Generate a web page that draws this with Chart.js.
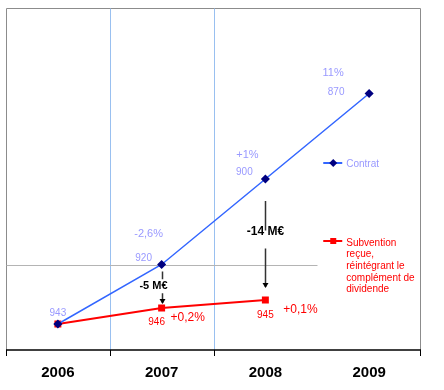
<!DOCTYPE html>
<html>
<head>
<meta charset="utf-8">
<script src="https://cdn.jsdelivr.net/npm/chart.js@4.4.0/dist/chart.umd.min.js"></script>
<style>
  html, body { margin: 0; padding: 0; background: #fff; }
  #wrap { width: 444px; height: 390px; }
</style>
</head>
<body>
<div id="wrap"><canvas id="chart" width="444" height="390"></canvas></div>
<script>
// ── Data ──────────────────────────────────────────────────
const years       = ['2006', '2007', '2008', '2009'];
const contrat     = [7.6, 25, 50, 75];
const subvention  = [7.6, 12.3, 14.6, null];
const contratVals = ['943', '920', '900', '870'];
const contratPct  = [null, '-2,6%', '+1%', '11%'];
const subvVals    = [null, '946', '945', null];
const subvPct     = [null, '+0,2%', '+0,1%', null];
const gapLabels   = [null, '-5 M€', '-14 M€', null];
const legendContrat = ['Contrat'];
const legendSubv    = ['Subvention', 'reçue,', 'réintégrant le', 'complément de', 'dividende'];

const BLUE = '#3366ff', NAVY = '#000080', RED = '#ff0000', LABEL = '#9999ff';
const GRID_BLUE = '#99c0f0', FRAME = '#8c8c8c';
const FONT = 'Arial, "Liberation Sans", sans-serif';

// label offsets for the Contrat series (number, percentage) relative to the point
const contratOffsets = [
  { v: [0, -11], p: null },
  { v: [-18, -6], p: [-13, -31] },
  { v: [-21, -7], p: [-18, -24] },
  { v: [-33, -1], p: [-36, -21] }
];

// ── Plugin: frame, grid, labels, arrows, legend ──────────
const decor = {
  id: 'decor',
  beforeDatasetsDraw(chart) {
    const { ctx, chartArea: a, scales: { x, y } } = chart;
    const px = i => Math.round((x.getPixelForValue(i) + x.getPixelForValue(i + 1)) / 2) + 0.5;
    const L = Math.round(a.left) + 0.5, R = Math.round(a.right) - 0.5;
    const T = Math.round(a.top) + 0.5, B = Math.round(a.bottom);
    ctx.save();
    ctx.lineWidth = 1;
    // frame: top, left, right
    ctx.strokeStyle = FRAME;
    ctx.beginPath();
    ctx.moveTo(L, B); ctx.lineTo(L, T); ctx.lineTo(R, T); ctx.lineTo(R, B);
    ctx.stroke();
    // inner vertical gridlines between 2006/2007 and 2007/2008
    ctx.strokeStyle = GRID_BLUE;
    ctx.beginPath();
    [0, 1].forEach(i => { ctx.moveTo(px(i), T); ctx.lineTo(px(i), B); });
    ctx.stroke();
    // horizontal gridline at 25, stops before the legend column
    const gy = Math.round(y.getPixelForValue(25)) + 0.5;
    ctx.strokeStyle = '#b4b4b4';
    ctx.beginPath();
    ctx.moveTo(L, gy);
    ctx.lineTo(px(2), gy);
    ctx.stroke();
    // category axis line and tick marks
    ctx.strokeStyle = '#000';
    ctx.lineWidth = 1.5;
    ctx.beginPath();
    ctx.moveTo(L - 0.5, B); ctx.lineTo(R + 0.5, B);
    ctx.stroke();
    ctx.lineWidth = 1;
    ctx.beginPath();
    [L, px(0), px(1), R].forEach(tx => { ctx.moveTo(tx, B); ctx.lineTo(tx, B + 6); });
    ctx.stroke();
    ctx.restore();
  },
  afterDatasetsDraw(chart) {
    const { ctx } = chart;
    const blue = chart.getDatasetMeta(0).data;
    const red = chart.getDatasetMeta(1).data;
    ctx.save();
    ctx.textAlign = 'center';
    ctx.textBaseline = 'middle';

    // Contrat labels
    ctx.fillStyle = LABEL;
    blue.forEach((pt, i) => {
      const o = contratOffsets[i];
      ctx.font = '10px ' + FONT;
      if (contratVals[i]) ctx.fillText(contratVals[i], pt.x + o.v[0], pt.y + o.v[1]);
      ctx.font = '11px ' + FONT;
      if (contratPct[i] && o.p) ctx.fillText(contratPct[i], pt.x + o.p[0], pt.y + o.p[1]);
    });

    // Subvention labels
    ctx.fillStyle = RED;
    red.forEach((pt, i) => {
      if (subvVals[i]) {
        ctx.font = '10px ' + FONT;
        ctx.fillText(subvVals[i], pt.x - (i === 1 ? 5 : 0), pt.y + (i === 1 ? 14 : 15));
      }
      if (subvPct[i]) {
        ctx.font = '12px ' + FONT;
        ctx.fillText(subvPct[i], pt.x + (i === 1 ? 26 : 35), pt.y + 10);
      }
    });

    // Gap arrows between the two series
    ctx.strokeStyle = '#333';
    ctx.fillStyle = '#000';
    ctx.lineWidth = 1.5;
    gapLabels.forEach((txt, i) => {
      if (!txt) return;
      const top = blue[i], bot = red[i];
      const cx = Math.round(top.x) + 0.5;
      const mid = (top.y + bot.y) / 2;
      const big = i === 2;
      const gap = big ? 9 : 7;
      const startTop = top.y + (big ? 22 : 7);
      const endBot = bot.y - (big ? 13 : 5);
      ctx.beginPath();
      ctx.moveTo(cx, startTop);
      ctx.lineTo(cx, mid - gap);
      ctx.moveTo(cx, mid + gap);
      ctx.lineTo(cx, endBot);
      ctx.stroke();
      ctx.beginPath();
      ctx.moveTo(cx - 3, endBot - 4);
      ctx.lineTo(cx + 3, endBot - 4);
      ctx.lineTo(cx, endBot + 1);
      ctx.closePath();
      ctx.fill();
      ctx.font = 'bold ' + (big ? 12 : 11) + 'px ' + FONT;
      ctx.fillText(txt, cx - (big ? 0 : 9), mid + (big ? -8 : 0));
    });
    ctx.restore();
  },
  afterDraw(chart) {
    const { ctx, scales: { x } } = chart;
    const lx = (x.getPixelForValue(2) + x.getPixelForValue(3)) / 2 + 6;
    ctx.save();
    ctx.textAlign = 'left';
    ctx.textBaseline = 'middle';
    ctx.font = '10px ' + FONT;
    // Contrat entry
    let ly = 163;
    ctx.strokeStyle = BLUE; ctx.lineWidth = 2;
    ctx.beginPath(); ctx.moveTo(lx, ly); ctx.lineTo(lx + 19, ly); ctx.stroke();
    ctx.fillStyle = NAVY;
    ctx.beginPath();
    ctx.moveTo(lx + 10, ly - 4); ctx.lineTo(lx + 14, ly); ctx.lineTo(lx + 10, ly + 4); ctx.lineTo(lx + 6, ly);
    ctx.closePath(); ctx.fill();
    ctx.fillStyle = LABEL;
    legendContrat.forEach((t, k) => ctx.fillText(t, lx + 23, ly + 1 + k * 11.6));
    // Subvention entry
    ly = 241;
    ctx.strokeStyle = RED; ctx.lineWidth = 2;
    ctx.beginPath(); ctx.moveTo(lx, ly); ctx.lineTo(lx + 19, ly); ctx.stroke();
    ctx.fillStyle = RED;
    ctx.fillRect(lx + 7, ly - 3, 6, 6);
    legendSubv.forEach((t, k) => ctx.fillText(t, lx + 23, ly + 2 + k * 11.6));
    ctx.restore();
  }
};

// ── Chart ─────────────────────────────────────────────────
new Chart(document.getElementById('chart'), {
  type: 'line',
  data: {
    labels: years,
    datasets: [
      {
        label: 'Contrat',
        data: contrat,
        borderColor: BLUE,
        borderWidth: 1.5,
        pointStyle: 'rectRot',
        pointRadius: 3.5,
        pointBackgroundColor: NAVY,
        pointBorderColor: NAVY,
        tension: 0
      },
      {
        label: 'Subvention reçue, réintégrant le complément de dividende',
        data: subvention,
        borderColor: RED,
        borderWidth: 2,
        pointStyle: 'rect',
        pointRadius: 3.5,
        pointBackgroundColor: RED,
        pointBorderColor: RED,
        tension: 0
      }
    ]
  },
  options: {
    responsive: false,
    animation: false,
    layout: { padding: { left: 4, right: 23, top: 8, bottom: 0 } },
    plugins: { legend: { display: false }, tooltip: { enabled: false } },
    scales: {
      x: {
        offset: true,
        afterFit: s => { s.height = 40; },
        grid: { display: false },
        border: { display: false },
        ticks: {
          color: '#000',
          padding: 6,
          font: { family: FONT, size: 15, weight: 'bold' }
        }
      },
      y: {
        display: false,
        min: 0,
        max: 100
      }
    }
  },
  plugins: [decor]
});
</script>
</body>
</html>
